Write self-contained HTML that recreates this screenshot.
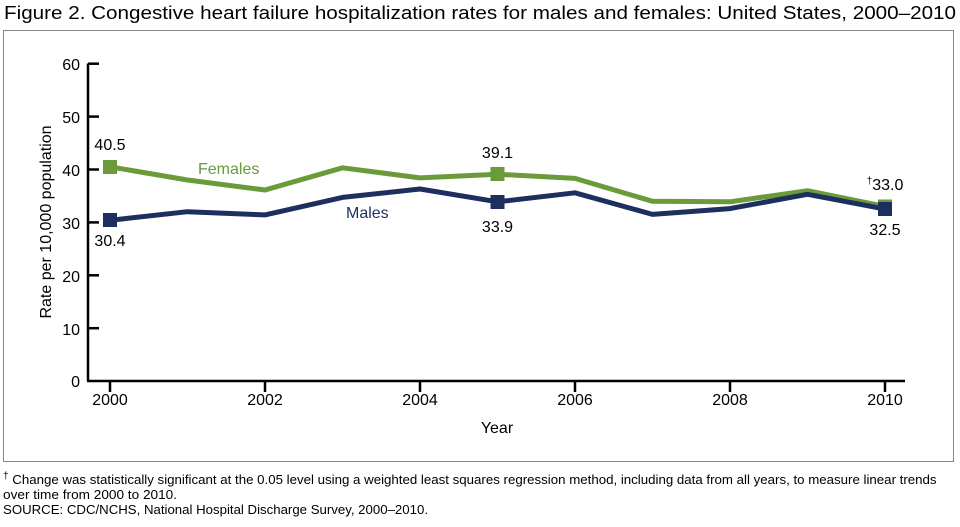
<!DOCTYPE html>
<html><head><style>
body{margin:0;background:#fff;width:960px;height:522px;overflow:hidden;font-family:"Liberation Sans",Arial,sans-serif;}
</style></head><body>
<svg width="960" height="522" xmlns="http://www.w3.org/2000/svg" font-family="Liberation Sans, Arial, sans-serif">
<text x="4" y="19" font-size="18" fill="#000" textLength="952" lengthAdjust="spacingAndGlyphs">Figure 2. Congestive heart failure hospitalization rates for males and females: United States, 2000–2010</text>
<rect x="3.5" y="30.5" width="950" height="431" fill="none" stroke="#888" stroke-width="1"/>
<g stroke="#000" stroke-width="2.5" fill="none">
<line x1="88" y1="63.5" x2="88" y2="381"/>
<line x1="87" y1="381" x2="905" y2="381"/>
<line x1="88" y1="63.7" x2="99" y2="63.7"/>
<line x1="88" y1="116.6" x2="99" y2="116.6"/>
<line x1="88" y1="169.5" x2="99" y2="169.5"/>
<line x1="88" y1="222.4" x2="99" y2="222.4"/>
<line x1="88" y1="275.3" x2="99" y2="275.3"/>
<line x1="88" y1="328.2" x2="99" y2="328.2"/>
<line x1="110" y1="381" x2="110" y2="392"/>
<line x1="265" y1="381" x2="265" y2="392"/>
<line x1="420" y1="381" x2="420" y2="392"/>
<line x1="575" y1="381" x2="575" y2="392"/>
<line x1="730" y1="381" x2="730" y2="392"/>
<line x1="885" y1="381" x2="885" y2="392"/>
</g>
<g font-size="16" fill="#000" text-anchor="end">
<text x="80" y="70">60</text><text x="80" y="123">50</text><text x="80" y="176">40</text>
<text x="80" y="229">30</text><text x="80" y="282">20</text><text x="80" y="335">10</text><text x="80" y="387">0</text>
</g>
<g font-size="16" fill="#000" text-anchor="middle">
<text x="110" y="405">2000</text><text x="265" y="405">2002</text><text x="420" y="405">2004</text>
<text x="575" y="405">2006</text><text x="730" y="405">2008</text><text x="885" y="405">2010</text>
<text x="497" y="433">Year</text>
</g>
<text transform="translate(51,222) rotate(-90)" font-size="16" text-anchor="middle">Rate per 10,000 population</text>
<polyline fill="none" stroke="#6a9a3a" stroke-width="5" stroke-linejoin="round" points="110,166.8 187.5,180 265,190 342.5,167.8 420,177.9 497.5,174.2 575,178.4 652.5,201.3 730,201.8 807.5,190.7 885,206.4"/>
<polyline fill="none" stroke="#1c2f5e" stroke-width="5" stroke-linejoin="round" points="110,220.3 187.5,211.7 265,214.9 342.5,197.4 420,189 497.5,201.8 575,192.8 652.5,214.4 730,208.6 807.5,194.3 885,209.1"/>
<g fill="#6a9a3a"><rect x="103" y="160" width="14" height="14"/><rect x="490.5" y="167" width="14" height="14"/><rect x="878" y="199.5" width="14" height="14"/></g>
<g fill="#1c2f5e"><rect x="103" y="213" width="14" height="14"/><rect x="490.5" y="195" width="14" height="14"/><rect x="878" y="202" width="14" height="14"/></g>
<g font-size="16" fill="#000" text-anchor="middle">
<text x="110" y="150">40.5</text><text x="110" y="246">30.4</text>
<text x="497.5" y="158">39.1</text><text x="497.5" y="232">33.9</text>
<text x="885" y="190"><tspan font-size="10" dy="-6">†</tspan><tspan dy="6">33.0</tspan></text><text x="885" y="235">32.5</text>
</g>
<text x="198" y="174" font-size="16" fill="#6a9a3a">Females</text>
<text x="346" y="218" font-size="16" fill="#1c2f5e">Males</text>
<g font-size="13" fill="#000">
<text x="3" y="484"><tspan font-size="10" dy="-5">†</tspan><tspan dy="5" textLength="928" lengthAdjust="spacingAndGlyphs"> Change was statistically significant at the 0.05 level using a weighted least squares regression method, including data from all years, to measure linear trends</tspan></text>
<text x="3" y="499" textLength="174" lengthAdjust="spacingAndGlyphs">over time from 2000 to 2010.</text>
<text x="3" y="514" textLength="425" lengthAdjust="spacingAndGlyphs">SOURCE: CDC/NCHS, National Hospital Discharge Survey, 2000–2010.</text>
</g>
</svg>
</body></html>
